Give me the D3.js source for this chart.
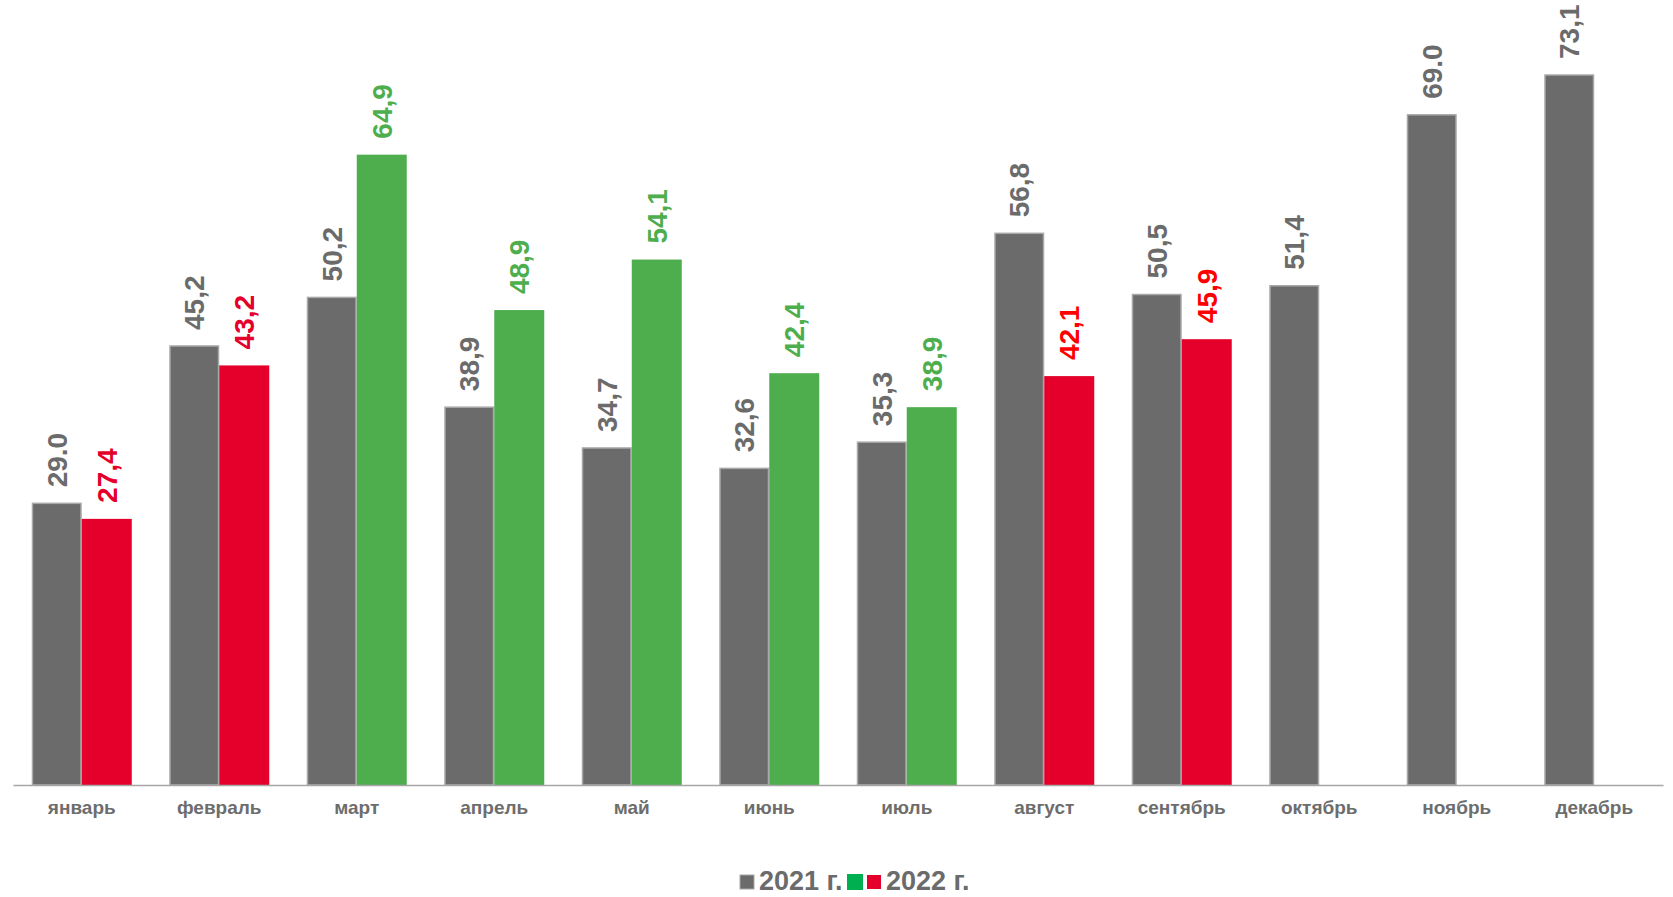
<!DOCTYPE html>
<html><head><meta charset="utf-8">
<script src="https://cdn.jsdelivr.net/npm/d3@7"></script>
<style>
html,body{margin:0;padding:0;background:#fff;}
svg{display:block;font-family:"Liberation Sans",Arial,sans-serif;}
</style></head>
<body><svg id="chart" width="1673" height="897"></svg>
<script>
const months = ["январь","февраль","март","апрель","май","июнь","июль","август","сентябрь","октябрь","ноябрь","декабрь"];
const values2021 = [29.0,45.2,50.2,38.9,34.7,32.6,35.3,56.8,50.5,51.4,69.0,73.1];
const labels2021 = ["29.0","45,2","50,2","38,9","34,7","32,6","35,3","56,8","50,5","51,4","69.0","73,1"];
const values2022 = [27.4,43.2,64.9,48.9,54.1,42.4,38.9,42.1,45.9];
const labels2022 = ["27,4","43,2","64,9","48,9","54,1","42,4","38,9","42,1","45,9"];
const labelColors2022 = ["#e4002b","#e4002b","#4eae4e","#4eae4e","#4eae4e","#4eae4e","#4eae4e","#ff0000","#ff0000"];
const series = ["2021","2022"];
const legendLabels = ["2021 г.","2022 г."];

const GRAY = "#6b6b6b", GRAY_STROKE = "#a8a8a8", RED = "#e4002b", GREEN = "#4eae4e";
const svg = d3.select("#chart");

const x = d3.scaleBand().domain(months).range([13,1663]).paddingInner(0.2727).paddingOuter(0.1364);
const xs = d3.scaleBand().domain(series).range([0, x.bandwidth()]);
const y = d3.scaleLinear().domain([0,80]).range([785,8]);

const rows2021 = months.map((m,i)=>({m, v: values2021[i], label: labels2021[i]}));
const rows2022 = values2022.map((v,i)=>({m: months[i], v, label: labels2022[i],
  fill: v < values2021[i] ? RED : GREEN, lc: labelColors2022[i]}));

// 2021 bars
svg.append("g").selectAll("rect").data(rows2021).join("rect")
  .attr("x", d=>x(d.m)+xs("2021")+0.75)
  .attr("y", d=>y(d.v))
  .attr("width", xs.bandwidth()-1.5)
  .attr("height", d=>y(0)-y(d.v))
  .attr("fill", GRAY).attr("stroke", GRAY_STROKE).attr("stroke-width",1.5);

// 2022 bars
svg.append("g").selectAll("rect").data(rows2022).join("rect")
  .attr("x", d=>x(d.m)+xs("2022"))
  .attr("y", d=>y(d.v))
  .attr("width", xs.bandwidth())
  .attr("height", d=>y(0)-y(d.v))
  .attr("fill", d=>d.fill);

// value labels
function addLabels(rows, key, colorFn){
  svg.append("g").selectAll("text").data(rows).join("text")
    .attr("transform", d=>`translate(${x(d.m)+xs(key)+xs.bandwidth()/2},${y(d.v)-16}) rotate(-90)`)
    .attr("dy","0.35em")
    .attr("text-anchor","start")
    .attr("font-size",28).attr("font-weight","bold")
    .attr("fill", colorFn)
    .text(d=>d.label);
}
addLabels(rows2021, "2021", ()=>GRAY);
addLabels(rows2022, "2022", d=>d.lc);

// x axis
const xAxis = d3.axisBottom(x).tickSize(0).tickPadding(0);
const gx = svg.append("g").attr("transform","translate(0,785)").call(xAxis);
gx.select(".domain").attr("stroke","#a6a6a6").attr("stroke-width",1.5);
gx.selectAll("text").attr("y",29).attr("dy",0).attr("font-size",19).attr("font-weight","bold")
  .attr("fill","#6d6d6d").attr("font-family","'Liberation Sans',Arial,sans-serif");

// legend
const lg = svg.append("g");
lg.append("rect").attr("x",740).attr("y",875).attr("width",14).attr("height",14).attr("fill",GRAY).attr("stroke",GRAY_STROKE).attr("stroke-width",1);
lg.append("text").attr("x",759).attr("y",890).attr("font-size",27).attr("font-weight","bold").attr("fill","#6b6b6b").text(legendLabels[0]);
lg.append("rect").attr("x",847).attr("y",874).attr("width",16).attr("height",16).attr("fill","#00b050");
lg.append("rect").attr("x",867).attr("y",875).attr("width",14).attr("height",14).attr("fill",RED);
lg.append("text").attr("x",886).attr("y",890).attr("font-size",27).attr("font-weight","bold").attr("fill","#6b6b6b").text(legendLabels[1]);
</script>
</body></html>
